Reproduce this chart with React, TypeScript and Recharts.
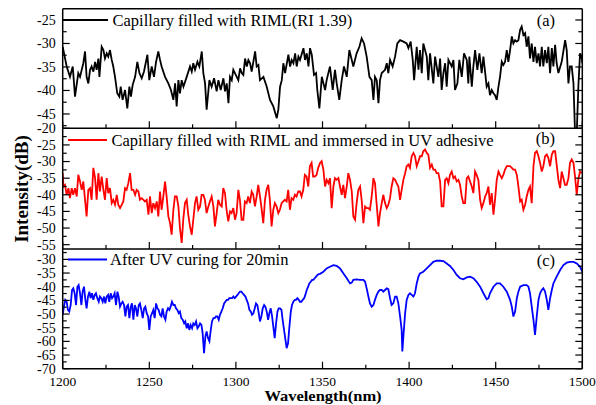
import React from 'react';
import { LineChart, Line, XAxis, YAxis } from 'recharts';

// wavelength (nm) / intensity (dB)
const waveA = [
  1200.0, 1202.3, 1204.2, 1205.8, 1207.1, 1209.0, 1210.0, 1211.9, 1212.9, 1213.8, 1214.8, 1215.8, 1216.7, 1217.7, 1218.7,
  1219.6, 1220.6, 1221.2, 1222.5, 1223.5, 1224.4, 1225.4, 1226.3, 1227.3, 1228.3, 1229.2, 1230.2, 1231.5, 1232.7, 1233.5,
  1234.6, 1236.0, 1237.3, 1238.5, 1239.4, 1240.4, 1241.8, 1243.1, 1244.3, 1245.6, 1246.9, 1248.9, 1250.0, 1251.4, 1252.7,
  1253.9, 1255.2, 1256.2, 1257.1, 1259.1, 1261.0, 1262.5, 1263.9, 1264.9, 1265.8, 1266.8, 1267.7, 1268.7, 1269.7, 1271.6,
  1273.5, 1274.5, 1275.4, 1276.4, 1277.8, 1278.9, 1280.3, 1281.2, 1282.2, 1283.1, 1284.7, 1286.0, 1287.4, 1288.9, 1289.9,
  1291.2, 1292.8, 1293.7, 1294.7, 1295.7, 1296.6, 1297.6, 1298.5, 1300.5, 1301.4, 1302.4, 1303.4, 1304.3, 1305.3, 1306.3,
  1307.2, 1308.2, 1309.1, 1311.1, 1312.0, 1313.0, 1313.9, 1315.9, 1317.8, 1319.7, 1321.6, 1323.6, 1324.5, 1325.5, 1326.5,
  1327.4, 1328.4, 1330.3, 1331.3, 1332.2, 1333.2, 1334.2, 1335.1, 1336.1, 1337.0, 1339.0, 1339.9, 1340.9, 1341.9, 1342.8,
  1343.8, 1345.1, 1346.3, 1347.0, 1348.2, 1349.6, 1351.5, 1352.4, 1354.3, 1355.9, 1357.2, 1358.2, 1359.7, 1361.1, 1362.4,
  1364.0, 1365.5, 1366.9, 1367.8, 1369.7, 1371.3, 1372.6, 1374.0, 1375.5, 1377.1, 1378.4, 1379.4, 1380.3, 1381.3, 1382.3,
  1383.2, 1384.2, 1386.1, 1387.1, 1388.0, 1389.0, 1390.5, 1391.9, 1393.2, 1394.8, 1396.7, 1398.6, 1399.6, 1400.9, 1402.1,
  1402.9, 1404.4, 1405.4, 1406.3, 1407.3, 1408.2, 1410.2, 1411.1, 1412.1, 1414.0, 1415.0, 1416.9, 1417.9, 1418.8, 1419.8,
  1420.8, 1421.7, 1422.7, 1424.6, 1425.6, 1426.5, 1427.9, 1429.0, 1430.4, 1431.7, 1433.3, 1434.2, 1434.8, 1436.2, 1437.1,
  1438.1, 1439.4, 1440.6, 1441.9, 1442.9, 1444.8, 1445.8, 1446.7, 1447.7, 1448.7, 1449.6, 1450.6, 1451.6, 1452.5, 1453.5,
  1454.4, 1455.4, 1456.4, 1457.3, 1458.3, 1459.3, 1460.2, 1461.2, 1462.2, 1463.1, 1464.1, 1465.0, 1466.0, 1467.0, 1467.9,
  1468.9, 1469.8, 1470.8, 1471.8, 1472.7, 1473.7, 1474.7, 1475.6, 1476.6, 1477.5, 1478.5, 1479.5, 1480.4, 1481.4, 1482.4,
  1483.3, 1484.3, 1485.2, 1486.2, 1488.1, 1490.1, 1491.0, 1492.0, 1492.9, 1493.9, 1494.9, 1495.8, 1496.8, 1497.8, 1498.7,
  1499.7, 1500.0,
];
const intensA = [
  -30.7, -34.9, -37.1, -34.9, -41.3, -36.3, -37.1, -34.2, -31.7, -37.1, -38.5, -35.6, -34.9, -36.0, -33.9,
  -35.6, -33.2, -37.1, -30.7, -31.4, -33.2, -32.1, -32.8, -31.4, -33.5, -34.9, -37.1, -40.6, -41.3, -39.2,
  -42.0, -39.9, -43.8, -39.2, -41.3, -38.8, -37.1, -33.9, -36.3, -37.4, -36.0, -32.4, -37.8, -34.9, -37.1,
  -33.9, -31.7, -33.5, -34.9, -37.1, -38.5, -39.9, -42.0, -38.5, -43.4, -37.8, -40.6, -37.8, -39.2, -37.1,
  -34.9, -36.0, -34.2, -35.6, -33.9, -34.9, -31.7, -36.3, -38.5, -44.1, -37.8, -39.2, -37.4, -40.2, -37.8,
  -39.9, -37.4, -40.2, -38.5, -42.7, -37.1, -37.8, -35.6, -37.1, -37.8, -35.3, -36.3, -36.7, -33.2, -34.9,
  -33.5, -34.2, -36.0, -31.7, -34.9, -34.6, -37.8, -37.1, -39.2, -42.0, -43.4, -45.9, -44.1, -39.2, -37.8,
  -34.2, -36.3, -32.4, -34.9, -33.5, -34.2, -32.1, -34.9, -32.8, -33.5, -31.0, -33.5, -32.1, -34.9, -31.0,
  -32.4, -36.7, -36.3, -39.9, -43.8, -37.1, -39.9, -37.8, -34.9, -39.9, -35.6, -38.5, -42.0, -37.8, -34.9,
  -37.1, -31.4, -33.5, -34.9, -32.1, -30.7, -28.9, -30.0, -32.8, -37.1, -37.8, -42.0, -37.1, -37.8, -42.7,
  -37.8, -36.3, -35.6, -34.2, -36.3, -33.5, -34.9, -32.8, -30.0, -29.3, -29.6, -30.0, -31.0, -29.6, -33.5,
  -37.8, -30.7, -35.6, -31.4, -36.3, -30.0, -32.8, -37.8, -32.1, -38.5, -32.8, -37.1, -33.2, -39.9, -36.3,
  -34.2, -39.2, -33.5, -34.9, -33.5, -39.9, -38.5, -33.5, -37.1, -32.1, -33.5, -38.5, -32.8, -39.2, -34.9,
  -31.4, -35.6, -32.1, -36.3, -32.8, -39.2, -38.5, -41.0, -39.9, -40.6, -41.0, -42.0, -39.2, -37.1, -33.9,
  -34.6, -33.9, -31.4, -33.9, -31.4, -28.5, -30.0, -29.3, -29.6, -29.3, -27.1, -26.4, -28.2, -27.8, -30.7,
  -28.5, -33.2, -30.0, -33.9, -30.7, -34.2, -32.1, -34.9, -30.7, -34.9, -31.4, -34.2, -30.7, -36.3, -31.0,
  -34.9, -30.3, -34.2, -36.3, -33.9, -29.3, -31.4, -38.5, -34.9, -34.9, -38.5, -49.0, -49.0, -38.5, -32.1,
  -33.2, -34.2,
];

const waveB = [
  1200.0, 1200.4, 1201.3, 1202.3, 1203.3, 1204.2, 1205.2, 1206.1, 1207.1, 1208.1, 1209.0, 1210.0, 1211.0, 1211.9, 1212.9,
  1213.8, 1214.8, 1215.8, 1216.7, 1217.7, 1218.7, 1219.6, 1220.6, 1221.5, 1222.5, 1223.5, 1224.4, 1225.4, 1226.3, 1227.3,
  1228.3, 1229.2, 1230.2, 1231.2, 1232.1, 1233.1, 1234.1, 1235.0, 1236.0, 1236.9, 1237.9, 1238.9, 1239.8, 1240.8, 1241.8,
  1242.7, 1243.7, 1244.6, 1245.6, 1246.6, 1247.5, 1248.5, 1249.5, 1250.4, 1251.4, 1252.3, 1253.3, 1254.3, 1255.2, 1256.2,
  1257.1, 1258.1, 1259.1, 1260.0, 1261.0, 1262.0, 1262.9, 1263.9, 1264.8, 1265.8, 1266.8, 1267.7, 1268.7, 1269.6, 1270.6,
  1271.6, 1272.5, 1273.5, 1274.5, 1275.4, 1276.4, 1277.3, 1278.3, 1279.3, 1280.2, 1281.2, 1282.1, 1283.1, 1284.1, 1285.0,
  1286.0, 1287.0, 1287.9, 1288.9, 1289.8, 1290.8, 1291.8, 1292.7, 1293.7, 1294.6, 1295.6, 1296.6, 1297.5, 1298.5, 1299.5,
  1300.4, 1301.4, 1302.3, 1303.3, 1304.3, 1305.2, 1306.2, 1307.1, 1308.1, 1309.1, 1310.0, 1311.0, 1312.0, 1312.9, 1313.9,
  1314.8, 1315.8, 1316.8, 1317.7, 1318.7, 1319.6, 1320.6, 1321.6, 1322.5, 1323.5, 1324.5, 1325.4, 1326.4, 1327.3, 1328.3,
  1329.3, 1330.2, 1331.2, 1332.1, 1333.1, 1334.1, 1335.0, 1336.0, 1337.0, 1337.9, 1338.9, 1339.8, 1340.8, 1341.8, 1342.7,
  1343.7, 1344.6, 1345.6, 1346.6, 1347.5, 1348.6, 1349.5, 1350.5, 1351.5, 1352.4, 1353.4, 1354.3, 1355.3, 1356.3, 1357.2,
  1358.2, 1359.2, 1360.1, 1361.1, 1362.0, 1363.0, 1364.0, 1364.9, 1365.9, 1366.9, 1367.8, 1368.8, 1369.7, 1370.7, 1371.7,
  1372.6, 1373.6, 1374.6, 1375.5, 1376.5, 1377.4, 1378.4, 1379.4, 1380.3, 1381.3, 1382.3, 1383.2, 1384.2, 1385.1, 1386.1,
  1387.1, 1388.0, 1389.0, 1389.9, 1390.9, 1391.9, 1392.8, 1393.8, 1394.8, 1395.7, 1396.7, 1397.7, 1398.6, 1399.6, 1400.5,
  1401.5, 1402.5, 1403.4, 1404.4, 1405.4, 1406.3, 1407.3, 1408.2, 1409.2, 1410.2, 1411.1, 1412.1, 1413.1, 1414.0, 1415.0,
  1415.9, 1416.9, 1417.9, 1418.8, 1419.8, 1420.8, 1421.7, 1422.7, 1423.6, 1424.6, 1425.6, 1426.5, 1427.5, 1428.5, 1429.4,
  1430.4, 1431.3, 1432.3, 1433.3, 1434.2, 1435.2, 1436.2, 1437.1, 1438.1, 1439.0, 1440.0, 1441.0, 1441.9, 1442.9, 1443.9,
  1444.8, 1445.8, 1446.7, 1447.7, 1448.7, 1449.6, 1450.6, 1451.6, 1452.5, 1453.5, 1454.4, 1455.4, 1456.4, 1457.3, 1458.3,
  1459.3, 1460.2, 1461.2, 1462.2, 1463.1, 1464.1, 1465.0, 1466.0, 1467.0, 1467.9, 1468.9, 1469.8, 1470.8, 1471.8, 1472.7,
  1473.7, 1474.7, 1475.6, 1476.6, 1477.5, 1478.5, 1479.5, 1480.4, 1481.4, 1482.4, 1483.3, 1484.3, 1485.2, 1486.2, 1487.2,
  1488.1, 1489.1, 1490.0, 1491.0, 1492.0, 1492.9, 1493.9, 1494.9, 1495.8, 1496.8, 1497.8, 1498.7, 1499.7,
];
const intensB = [
  -33.5, -37.5, -37.0, -40.0, -38.0, -41.0, -38.0, -40.0, -38.0, -40.5, -34.0, -36.0, -38.5, -36.0, -41.5,
  -46.5, -38.5, -38.0, -41.5, -31.9, -35.0, -41.5, -33.5, -39.0, -34.5, -38.5, -41.5, -35.0, -39.5, -38.0,
  -42.5, -41.5, -43.0, -40.0, -43.0, -44.0, -43.0, -42.0, -38.0, -38.5, -36.5, -33.5, -38.5, -38.5, -40.0,
  -38.5, -39.0, -41.5, -41.0, -41.5, -42.0, -41.5, -46.0, -40.5, -45.5, -42.5, -44.0, -42.0, -46.5, -39.0,
  -44.5, -40.5, -36.0, -40.5, -46.5, -48.5, -52.0, -44.5, -40.5, -40.5, -43.5, -50.0, -54.5, -47.5, -42.5,
  -41.5, -46.0, -49.5, -52.0, -47.5, -42.5, -40.5, -44.5, -43.5, -40.0, -40.0, -41.5, -45.5, -43.5, -42.0,
  -40.5, -43.5, -49.5, -45.5, -41.5, -43.0, -43.5, -38.0, -39.5, -44.5, -48.0, -45.0, -45.5, -44.0, -47.5,
  -45.5, -38.5, -41.5, -47.5, -47.5, -42.0, -42.5, -40.5, -42.5, -39.0, -40.0, -43.5, -40.5, -37.0, -40.5,
  -44.0, -48.5, -41.5, -38.5, -37.0, -41.5, -49.5, -44.5, -42.5, -43.5, -45.5, -44.5, -42.5, -42.0, -41.5,
  -42.0, -38.5, -44.5, -41.0, -41.5, -40.0, -40.5, -39.0, -39.0, -40.5, -38.5, -34.0, -34.5, -37.5, -31.4,
  -30.4, -34.5, -34.5, -34.0, -31.9, -30.4, -29.9, -32.4, -37.5, -35.5, -36.5, -35.0, -44.0, -37.5, -35.0,
  -35.5, -35.0, -37.5, -40.0, -37.0, -41.0, -37.5, -33.5, -35.5, -39.0, -46.5, -47.5, -42.5, -38.5, -37.5,
  -41.5, -48.5, -43.5, -44.0, -44.0, -44.5, -40.5, -35.0, -36.5, -43.0, -49.5, -45.5, -42.5, -40.0, -42.5,
  -44.0, -43.0, -41.0, -37.5, -35.0, -35.5, -36.5, -37.5, -41.5, -38.5, -35.5, -33.5, -31.4, -30.9, -31.9,
  -28.4, -27.4, -28.4, -31.4, -29.9, -28.4, -28.4, -26.9, -26.4, -27.4, -27.9, -31.9, -30.9, -32.4, -32.4,
  -33.5, -33.5, -36.0, -43.5, -43.5, -35.5, -35.0, -36.5, -34.0, -33.0, -35.0, -34.5, -36.0, -35.5, -37.0,
  -40.5, -42.5, -42.5, -35.0, -34.5, -36.0, -37.5, -39.5, -33.0, -34.0, -35.5, -41.5, -44.0, -42.5, -40.5,
  -39.5, -37.5, -43.0, -39.5, -46.0, -41.5, -35.5, -33.0, -34.0, -35.0, -34.0, -32.4, -31.4, -31.4, -31.4,
  -31.9, -32.4, -32.4, -34.0, -37.5, -42.0, -41.5, -44.5, -43.0, -40.5, -38.5, -37.5, -42.5, -31.4, -27.4,
  -26.9, -28.4, -30.4, -33.0, -31.4, -28.4, -27.9, -28.9, -31.4, -27.9, -26.9, -26.9, -30.9, -35.5, -38.0,
  -33.0, -35.0, -37.0, -37.0, -35.0, -30.4, -29.4, -30.4, -34.5, -40.0, -35.0, -33.0, -33.5,
];

const waveC = [
  1200.0, 1200.7, 1201.5, 1202.3, 1203.0, 1203.8, 1204.6, 1205.4, 1206.1, 1206.9, 1207.7, 1208.5, 1209.2, 1210.0, 1210.8,
  1211.5, 1212.3, 1213.1, 1213.8, 1214.6, 1215.4, 1216.1, 1216.9, 1217.7, 1218.5, 1219.2, 1220.0, 1220.8, 1221.5, 1222.3,
  1223.1, 1223.9, 1224.6, 1225.4, 1226.2, 1226.9, 1227.7, 1228.5, 1229.2, 1230.0, 1230.8, 1231.6, 1232.3, 1233.1, 1233.9,
  1234.6, 1235.4, 1236.2, 1236.9, 1237.7, 1238.5, 1239.3, 1240.0, 1240.8, 1241.6, 1242.3, 1243.1, 1243.9, 1244.6, 1245.4,
  1246.2, 1247.0, 1247.7, 1248.5, 1249.3, 1250.0, 1250.8, 1251.6, 1252.3, 1253.1, 1253.9, 1254.7, 1255.4, 1256.2, 1257.0,
  1257.7, 1258.5, 1259.3, 1260.0, 1260.8, 1261.6, 1262.3, 1263.1, 1263.9, 1264.7, 1265.4, 1266.2, 1267.0, 1267.7, 1268.5,
  1269.3, 1270.1, 1270.8, 1271.6, 1272.4, 1273.1, 1273.9, 1274.7, 1275.4, 1276.2, 1277.0, 1277.8, 1278.5, 1279.3, 1280.1,
  1280.8, 1281.6, 1282.4, 1283.1, 1283.9, 1284.7, 1285.5, 1286.2, 1287.0, 1287.8, 1288.5, 1289.3, 1290.1, 1290.8, 1291.6,
  1292.4, 1293.2, 1293.9, 1294.7, 1295.5, 1296.2, 1297.0, 1297.8, 1298.5, 1299.3, 1300.1, 1300.9, 1301.6, 1302.4, 1303.2,
  1303.9, 1304.7, 1305.5, 1306.2, 1307.0, 1307.8, 1308.6, 1309.3, 1310.1, 1310.9, 1311.6, 1312.4, 1313.2, 1313.9, 1314.7,
  1315.5, 1316.3, 1317.0, 1317.8, 1318.6, 1319.3, 1320.1, 1320.9, 1321.6, 1322.4, 1323.2, 1324.0, 1324.7, 1325.5, 1326.3,
  1327.0, 1327.8, 1328.6, 1329.3, 1330.1, 1330.9, 1331.7, 1332.4, 1333.2, 1334.0, 1334.7, 1335.5, 1336.3, 1337.0, 1337.8,
  1338.6, 1339.4, 1340.1, 1340.9, 1341.7, 1342.4, 1343.2, 1344.0, 1344.7, 1345.5, 1346.3, 1347.1, 1347.8, 1348.6, 1350.5,
  1352.4, 1354.3, 1356.3, 1358.2, 1360.1, 1362.0, 1364.0, 1365.9, 1366.9, 1367.8, 1369.7, 1371.7, 1373.6, 1374.6, 1375.5,
  1376.5, 1377.4, 1378.4, 1379.4, 1380.3, 1381.3, 1382.3, 1383.2, 1384.2, 1385.1, 1386.1, 1387.1, 1388.0, 1389.0, 1389.9,
  1390.9, 1391.9, 1392.8, 1393.8, 1394.8, 1395.7, 1396.1, 1396.7, 1397.7, 1398.6, 1399.6, 1400.5, 1401.5, 1402.5, 1403.4,
  1404.4, 1405.4, 1406.3, 1408.2, 1410.2, 1412.1, 1414.0, 1415.9, 1417.9, 1419.8, 1421.7, 1423.6, 1425.6, 1427.5, 1429.4,
  1431.3, 1433.3, 1435.2, 1437.1, 1439.0, 1441.0, 1442.9, 1444.8, 1445.8, 1446.7, 1448.7, 1450.6, 1452.5, 1454.4, 1456.4,
  1458.3, 1459.3, 1460.2, 1461.2, 1462.2, 1463.1, 1464.1, 1466.0, 1467.9, 1468.9, 1469.8, 1470.8, 1471.8, 1472.7, 1473.7,
  1474.7, 1475.6, 1476.6, 1477.5, 1478.5, 1479.5, 1480.4, 1481.4, 1482.4, 1483.3, 1485.2, 1487.2, 1489.1, 1491.0, 1492.9,
  1494.9, 1496.8, 1498.7, 1500.0,
];
const intensC = [
  -50.3, -47.3, -44.8, -45.5, -48.5, -49.1, -46.7, -41.2, -40.6, -42.4, -46.7, -40.0, -39.4, -42.4, -46.7,
  -41.8, -40.0, -44.8, -47.9, -43.6, -41.8, -44.2, -42.4, -44.8, -43.0, -42.4, -44.2, -45.5, -43.6, -44.2,
  -45.5, -43.6, -46.1, -43.6, -43.0, -45.5, -42.4, -44.2, -43.6, -42.4, -46.7, -41.8, -43.6, -47.3, -46.1,
  -45.5, -46.7, -50.9, -47.3, -46.7, -51.5, -47.3, -46.1, -52.1, -46.7, -47.9, -50.9, -46.7, -46.1, -48.5,
  -51.5, -47.9, -47.3, -49.7, -50.9, -55.8, -50.9, -49.7, -48.5, -51.5, -46.1, -47.9, -48.5, -50.3, -50.9,
  -47.9, -50.9, -52.1, -49.1, -47.9, -48.5, -47.3, -45.5, -46.7, -46.7, -47.9, -48.5, -49.7, -49.1, -51.5,
  -52.1, -53.4, -52.7, -55.2, -53.4, -55.8, -54.0, -55.2, -53.4, -54.0, -52.7, -55.2, -54.6, -53.4, -54.0,
  -57.0, -64.3, -58.2, -56.4, -58.8, -60.0, -55.8, -52.7, -51.5, -51.5, -50.9, -50.9, -52.1, -50.3, -49.1,
  -47.9, -46.1, -45.5, -44.8, -44.8, -44.2, -44.2, -44.2, -43.6, -44.2, -43.6, -43.0, -42.4, -41.8, -41.8,
  -42.4, -43.0, -43.6, -44.8, -46.1, -48.5, -49.1, -50.3, -49.7, -47.9, -46.1, -46.7, -49.7, -52.7, -50.9,
  -47.9, -46.7, -47.3, -49.1, -52.1, -49.7, -47.9, -50.9, -54.6, -58.8, -53.4, -49.1, -47.9, -47.9, -48.5,
  -52.1, -55.8, -59.4, -62.5, -60.7, -54.6, -49.1, -46.7, -45.5, -44.8, -44.8, -44.2, -44.8, -45.5, -45.5,
  -44.8, -44.2, -43.0, -41.2, -40.0, -38.8, -38.2, -37.5, -37.5, -36.9, -36.3, -35.7, -35.4, -35.3, -34.5,
  -33.3, -32.7, -32.1, -32.4, -33.3, -35.1, -36.9, -38.8, -38.5, -37.5, -37.3, -37.5, -37.5, -38.2, -40.6,
  -43.6, -46.1, -47.3, -46.7, -44.8, -43.0, -41.8, -41.2, -41.2, -41.8, -41.2, -40.6, -40.9, -44.2, -46.7,
  -46.1, -43.6, -43.6, -46.1, -50.9, -55.8, -63.7, -58.2, -49.7, -44.8, -43.0, -42.4, -43.0, -43.6, -42.4,
  -38.8, -36.3, -35.1, -34.5, -33.3, -32.1, -30.9, -30.5, -30.5, -30.6, -31.5, -32.4, -33.9, -35.7, -36.9,
  -37.3, -36.6, -36.3, -36.9, -38.2, -40.0, -42.4, -44.6, -44.2, -42.4, -40.0, -38.8, -38.8, -40.0, -41.8,
  -44.8, -47.3, -50.9, -49.1, -44.2, -41.8, -40.0, -39.4, -39.4, -40.0, -42.4, -47.3, -52.1, -57.6, -50.9,
  -44.8, -42.4, -41.2, -40.6, -41.8, -44.8, -48.5, -44.2, -41.2, -38.8, -36.3, -33.9, -32.1, -31.2, -30.9,
  -30.9, -31.5, -32.7, -34.5,
];

const xTicks = [1200, 1225, 1250, 1275, 1300, 1325, 1350, 1375, 1400, 1425, 1450, 1475, 1500];
const yTicksA = [-47.5, -45, -42.5, -40, -37.5, -35, -32.5, -30, -27.5, -25];
const yTicksB = [-55, -52.5, -50, -47.5, -45, -42.5, -40, -37.5, -35, -32.5, -30, -27.5, -25, -22.5, -20];
const yTicksC = [-70, -67.5, -65, -62.5, -60, -57.5, -55, -52.5, -50, -47.5, -45, -42.5, -40, -37.5, -35, -32.5, -30, -27.5];

const legendA = 'Capillary filled with RIML(RI 1.39)';
const legendB = 'Capillary filled with RIML and immersed in UV adhesive';
const legendC = 'After UV curing for 20min';

const W = 596;
const H = 405;
const PLOT_L = 62.7;
const PLOT_R = 582.3;
const FONT = '"Liberation Serif", "Times New Roman", serif';
const axisStyle = { stroke: '#000', strokeWidth: 1.5 };

const toRows = (w: number[], v: number[]) => w.map((x, i) => ({ w: x, v: v[i] }));

const LeftTick = (props: any) => {
  const { x, y, payload } = props;
  const major = payload.value % 5 === 0;
  return (
    <g>
      <line x1={x} x2={x + (major ? 7 : 4)} y1={y} y2={y} stroke="#000" strokeWidth={1.2} />
      {major && (
        <text x={x - 7} y={y} dy="0.35em" textAnchor="end" fontSize={14} fontFamily={FONT} fill="#000">
          {payload.value}
        </text>
      )}
    </g>
  );
};

const RightTick = (props: any) => {
  const { x, y, payload } = props;
  const major = payload.value % 5 === 0;
  return <line x1={x} x2={x - (major ? 7 : 4)} y1={y} y2={y} stroke="#000" strokeWidth={1.2} />;
};

const bottomTick = (labels: boolean) => (props: any) => {
  const { x, y, payload } = props;
  const major = payload.value % 50 === 0;
  return (
    <g>
      <line x1={x} x2={x} y1={y} y2={y - (major ? 7 : 4)} stroke="#000" strokeWidth={1.2} />
      {labels && major && (
        <text x={x} y={y + 17.5} textAnchor="middle" fontSize={13.5} fontFamily={FONT} fill="#000">
          {payload.value}
        </text>
      )}
    </g>
  );
};

interface PanelProps {
  rows: { w: number; v: number }[];
  color: string;
  top: number;
  bottom: number;
  domain: [number, number];
  ticks: number[];
  xLabels?: boolean;
  topLine?: boolean;
}

const Panel = ({ rows, color, top, bottom, domain, ticks, xLabels, topLine }: PanelProps) => (
  <div style={{ position: 'absolute', left: 0, top: 0 }}>
    <LineChart
      width={W}
      height={H}
      margin={{ top: topLine ? 0 : top, bottom: 0, left: 0, right: 0 }}
    >
      <XAxis
        dataKey="w"
        type="number"
        domain={[1200, 1500]}
        ticks={xTicks}
        interval={0}
        allowDataOverflow
        height={H - bottom}
        tickSize={0}
        tickMargin={0}
        tickLine={false}
        tick={bottomTick(!!xLabels)}
        axisLine={axisStyle}
      />
      {topLine && (
        <XAxis
          xAxisId="top"
          orientation="top"
          dataKey="w"
          type="number"
          domain={[1200, 1500]}
          height={top}
          tick={false}
          tickLine={false}
          axisLine={axisStyle}
        />
      )}
      <YAxis
        type="number"
        domain={domain}
        ticks={ticks}
        interval={0}
        allowDataOverflow
        width={PLOT_L}
        tickSize={0}
        tickMargin={0}
        tickLine={false}
        tick={LeftTick}
        axisLine={axisStyle}
      />
      <YAxis
        yAxisId="r"
        orientation="right"
        type="number"
        domain={domain}
        ticks={ticks}
        interval={0}
        allowDataOverflow
        width={W - PLOT_R}
        tickSize={0}
        tickMargin={0}
        tickLine={false}
        tick={RightTick}
        axisLine={axisStyle}
      />
      <Line
        data={rows}
        dataKey="v"
        type="linear"
        stroke={color}
        strokeWidth={1.8}
        dot={false}
        isAnimationActive={false}
      />
    </LineChart>
  </div>
);

export default function App() {
  return (
    <div style={{ position: 'absolute', left: 0, top: 0, width: W, height: H, background: '#fff' }}>
      <Panel rows={toRows(waveA, intensA)} color="#000" top={8.7} bottom={128.3} domain={[-48.05, -22.6]} ticks={yTicksA} topLine />
      <Panel rows={toRows(waveB, intensB)} color="#ff0000" top={128.3} bottom={249} domain={[-56.3, -20]} ticks={yTicksB} />
      <Panel rows={toRows(waveC, intensC)} color="#0000ff" top={249} bottom={368.7} domain={[-70, -26.2]} ticks={yTicksC} xLabels />
      <svg width={W} height={H} style={{ position: 'absolute', left: 0, top: 0, pointerEvents: 'none' }}>
        <g fontFamily={FONT} fontSize={16.5} fill="#000">
          <line x1={63} x2={108} y1={20} y2={20} stroke="#000" strokeWidth={2} />
          <text x={112.5} y={25.5}>{legendA}</text>
          <text x={555} y={25.5} textAnchor="end">(a)</text>
          <line x1={68} x2={107} y1={140} y2={140} stroke="#ff0000" strokeWidth={2} />
          <text x={111.5} y={145.5}>{legendB}</text>
          <text x={555} y={143.5} textAnchor="end">(b)</text>
          <line x1={68} x2={107} y1={259.5} y2={259.5} stroke="#0000ff" strokeWidth={2} />
          <text x={110} y={265}>{legendC}</text>
          <text x={555} y={266} textAnchor="end">(c)</text>
        </g>
        <text
          transform="translate(323,401) scale(1,0.85)"
          textAnchor="middle"
          fontFamily={FONT}
          fontSize={16.5}
          fontWeight="bold"
          fill="#000"
        >
          Wavelength(nm)
        </text>
        <text
          transform="translate(21.5,189) rotate(-90)"
          textAnchor="middle"
          dy="0.35em"
          fontFamily={FONT}
          fontSize={19}
          fontWeight="bold"
          fill="#000"
        >
          Intensity(dB)
        </text>
      </svg>
    </div>
  );
}
